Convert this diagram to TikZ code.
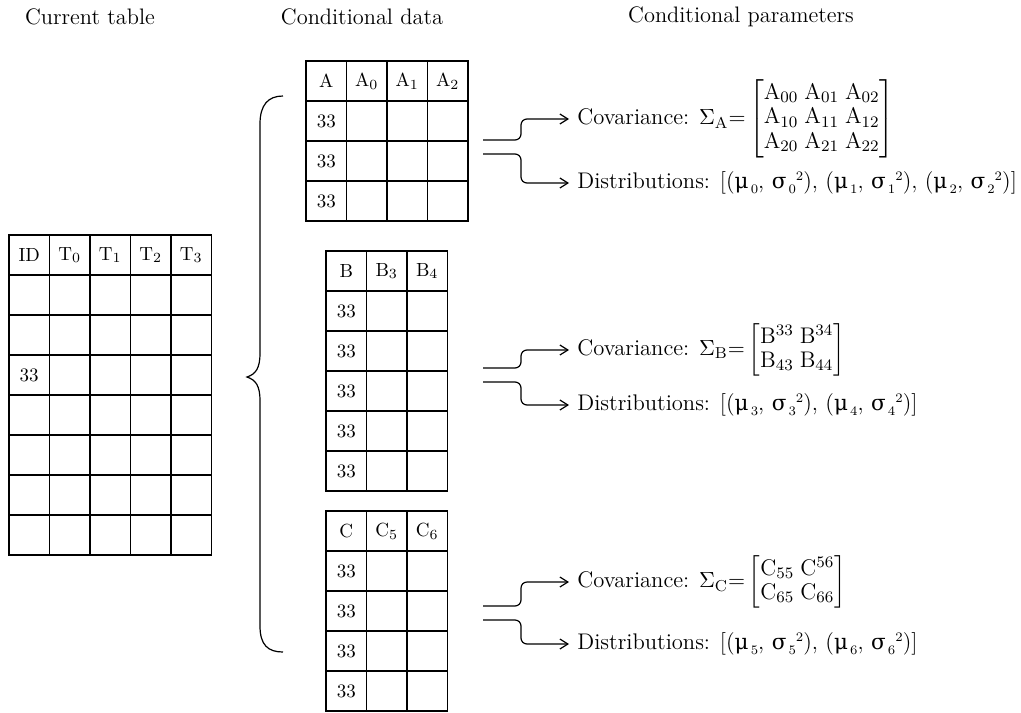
\documentclass[tikz,border=0pt]{standalone}
\usepackage{amsmath}
\usepackage{fontspec}
\usetikzlibrary{positioning,arrows.meta,calc}
\newfontfamily\grkfont[Scale=0.95]{DejaVu Serif}
\newcommand{\lo}[1]{\raisebox{-0.5ex}{\fontsize{6.5}{7}\selectfont\,#1}}
\newcommand{\hi}[1]{\raisebox{0.9ex}{\fontsize{6.5}{7}\selectfont #1}}
\newcommand{\gmu}[1]{{\grkfont μ}\lo{#1}}
\newcommand{\gsig}[1]{{\grkfont σ}\lo{#1}\hi{2}}
\newcommand{\sub}[2]{$\mathrm{#1}_{#2}$}
\newcommand{\hdfont}{\fontsize{11.2}{13}\selectfont}
\newcommand{\clfont}{\fontsize{9.5}{11}\selectfont}
\newcommand{\bdfont}{\fontsize{11.3}{13.6}\selectfont}

\begin{document}
\begin{tikzpicture}[x=0.5pt, y=-0.5pt,
      cell/.style={draw, line width=0.8pt, minimum width=20.25pt,
                   minimum height=20pt, inner sep=0pt, font=\clfont},
      head/.style={font=\hdfont},
      lbl/.style={font=\bdfont, anchor=west, inner sep=4pt},
      flow/.style={-{Straight Barb[length=4pt,width=5pt]}, line width=0.6pt,
                   rounded corners=3pt},
      brace/.style={line width=0.6pt},
    ]
      \useasboundingbox (0,0) rectangle (1021,712);
      % column titles
      \node[head] (hCur) at (90,17) {Current table};
      \node[head] (hData) at (362,17) {Conditional data};
      \node[head] (hPar) at (741,17) {Conditional parameters};
      % current table
      \foreach \c/\t in {0/ID,1/\sub{T}{0},2/\sub{T}{1},3/\sub{T}{2},4/\sub{T}{3}}
        \node[cell] (T-0-\c) at (29.25+40.5*\c,255) {\t};
      \foreach \r in {1,...,7}
        \foreach \c in {0,...,4}
          \node[cell] (T-\r-\c) at (29.25+40.5*\c,255+40*\r)
                {\ifnum\r=3 \ifnum\c=0 33\fi\fi};
      % conditional data A
      \foreach \c/\t in {0/A,1/\sub{A}{0},2/\sub{A}{1},3/\sub{A}{2}}
        \node[cell] (A-0-\c) at (326.25+40.5*\c,81) {\t};
      \foreach \r in {1,...,3}
        \foreach \c in {0,...,3}
          \node[cell] (A-\r-\c) at (326.25+40.5*\c,81+40*\r) {\ifnum\c=0 33\fi};
      % conditional data B
      \foreach \c/\t in {0/B,1/\sub{B}{3},2/\sub{B}{4}}
        \node[cell] (B-0-\c) at (346.25+40.5*\c,271) {\t};
      \foreach \r in {1,...,5}
        \foreach \c in {0,...,2}
          \node[cell] (B-\r-\c) at (346.25+40.5*\c,271+40*\r) {\ifnum\c=0 33\fi};
      % conditional data C
      \foreach \c/\t in {0/C,1/\sub{C}{5},2/\sub{C}{6}}
        \node[cell] (C-0-\c) at (346.25+40.5*\c,531) {\t};
      \foreach \r in {1,...,4}
        \foreach \c in {0,...,2}
          \node[cell] (C-\r-\c) at (346.25+40.5*\c,531+40*\r) {\ifnum\c=0 33\fi};
      % brace
      \draw[brace] (283,96) .. controls (268,96) and (260,105) .. (260,124)
        -- (260,353) .. controls (260,368) and (256,374) .. (247,377)
        .. controls (256,380) and (260,386) .. (260,401)
        -- (260,626) .. controls (260,645) and (268,652) .. (283,652);
      % parameters
      \node[lbl] (covA) at (569,119) {\setlength{\arraycolsep}{1.5pt}%
        \renewcommand{\arraystretch}{0.9}%
        Covariance: $\Sigma_{\mathrm{A}}{=}\begin{bmatrix}
          \mathrm{A}_{00} & \mathrm{A}_{01} & \mathrm{A}_{02}\\
          \mathrm{A}_{10} & \mathrm{A}_{11} & \mathrm{A}_{12}\\
          \mathrm{A}_{20} & \mathrm{A}_{21} & \mathrm{A}_{22}\end{bmatrix}$};
      \node[lbl] (disA) at (569,183) {Distributions:
        [(\gmu{0}, \gsig{0}), (\gmu{1}, \gsig{1}), (\gmu{2}, \gsig{2})]};
      \node[lbl] (covB) at (569,350) {\setlength{\arraycolsep}{1.5pt}%
        \renewcommand{\arraystretch}{0.9}%
        Covariance: $\Sigma_{\mathrm{B}}{=}\begin{bmatrix}
          \mathrm{B}^{33} & \mathrm{B}^{34}\\
          \mathrm{B}_{43} & \mathrm{B}_{44}\end{bmatrix}$};
      \node[lbl] (disB) at (569,405) {Distributions:
        [(\gmu{3}, \gsig{3}), (\gmu{4}, \gsig{4})]};
      \node[lbl] (covC) at (569,582) {\setlength{\arraycolsep}{1.5pt}%
        \renewcommand{\arraystretch}{0.9}%
        Covariance: $\Sigma_{\mathrm{C}}{=}\begin{bmatrix}
          \mathrm{C}_{55} & \mathrm{C}^{56}\\
          \mathrm{C}_{65} & \mathrm{C}_{66}\end{bmatrix}$};
      \node[lbl] (disC) at (569,644) {Distributions:
        [(\gmu{5}, \gsig{5}), (\gmu{6}, \gsig{6})]};
      % split arrows
      \coordinate (Aup) at (483,140); \coordinate (Alo) at (483,154);
      \coordinate (Bup) at (483,368); \coordinate (Blo) at (483,382);
      \coordinate (Cup) at (483,606); \coordinate (Clo) at (483,620);
      \draw[flow] (Aup) -- ++(38,0) |- (covA.west);
      \draw[flow] (Alo) -- ++(38,0) |- (disA.west);
      \draw[flow] (Bup) -- ++(38,0) |- (covB.west);
      \draw[flow] (Blo) -- ++(38,0) |- (disB.west);
      \draw[flow] (Cup) -- ++(38,0) |- (covC.west);
      \draw[flow] (Clo) -- ++(38,0) |- (disC.west);
    \end{tikzpicture}
\end{document}
